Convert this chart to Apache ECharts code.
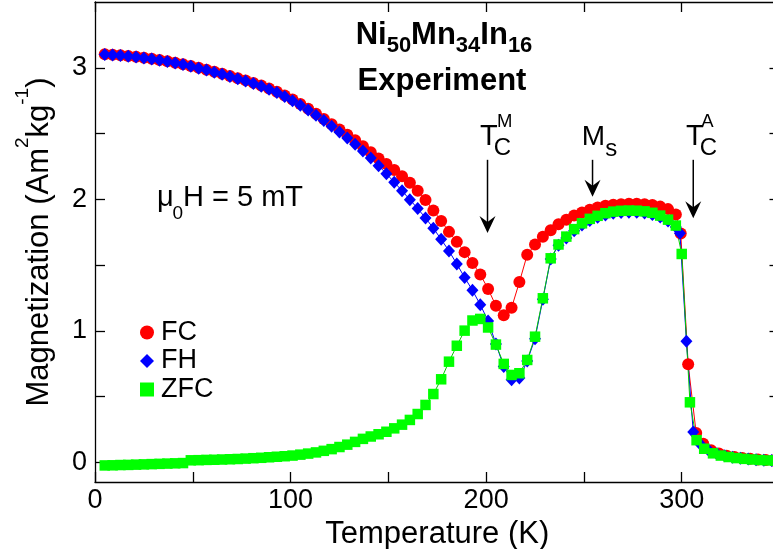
<!DOCTYPE html>
<html><head><meta charset="utf-8">
<script src="https://cdn.jsdelivr.net/npm/echarts@6/dist/echarts.min.js"></script>
<style>html,body{margin:0;padding:0;background:#fff}#c{width:773px;height:549px}</style>
</head><body><div id="c"></div>
<script>
// ---- data ----
const tempGrid = [5,9,13,17,21,25,29,33,37,41,45,49,53,57,61,65,69,73,77,81,85,89,93,97,101,105,109,113,117,121,125,129,133,137,141,145,149,153,157,161,165,169,173,177,181,185,189,193,197,201,205,209,213,217,221,225,229,233,237,241,245,249,253,257,261,265,269,273,277,281,285,289,293,297];

const tempFCtail = [299.5,303.3,307.4,311,315,319,323,327,331,335,339,343,347];
const tempFHtail = [299.1,302.4,305.9,310,314,318,322,326,330,334,338,342,346];
const tempZFCtail = [300,304.2,307.6,311.5,316,320,324,328,332,336,340,344,348];

const magFC = [3.102,3.099,3.095,3.089,3.083,3.076,3.068,3.059,3.049,3.038,3.027,3.014,3.000,2.985,2.970,2.954,2.938,2.921,2.904,2.885,2.865,2.843,2.817,2.789,2.758,2.724,2.688,2.650,2.610,2.571,2.531,2.491,2.448,2.403,2.357,2.310,2.268,2.223,2.175,2.125,2.065,1.995,1.915,1.835,1.752,1.676,1.598,1.515,1.428,1.318,1.190,1.118,1.175,1.370,1.578,1.656,1.715,1.765,1.810,1.845,1.876,1.900,1.921,1.938,1.950,1.958,1.963,1.965,1.965,1.962,1.956,1.944,1.925,1.885];
const magFCtail = [1.740,0.745,0.222,0.140,0.092,0.066,0.050,0.040,0.032,0.026,0.021,0.017,0.014];

const magFH = [3.100,3.097,3.093,3.087,3.081,3.074,3.066,3.057,3.047,3.036,3.024,3.011,2.997,2.982,2.966,2.950,2.934,2.917,2.899,2.880,2.860,2.837,2.811,2.782,2.750,2.715,2.678,2.639,2.598,2.556,2.512,2.466,2.418,2.367,2.313,2.255,2.194,2.130,2.064,1.997,1.929,1.858,1.780,1.695,1.607,1.508,1.405,1.308,1.198,1.075,0.900,0.728,0.628,0.640,0.770,0.940,1.240,1.545,1.650,1.706,1.761,1.805,1.839,1.863,1.881,1.893,1.900,1.902,1.901,1.896,1.885,1.865,1.835,1.790];
const magFHtail = [1.741,0.920,0.230,0.130,0.088,0.064,0.049,0.039,0.031,0.025,0.020,0.016,0.013];

const magZFC = [-0.024,-0.023,-0.021,-0.020,-0.018,-0.016,-0.014,-0.012,-0.010,-0.008,-0.006,0.015,0.016,0.018,0.019,0.021,0.023,0.025,0.028,0.031,0.034,0.038,0.042,0.046,0.051,0.058,0.066,0.075,0.087,0.100,0.116,0.134,0.155,0.178,0.196,0.213,0.232,0.258,0.286,0.322,0.367,0.436,0.519,0.631,0.765,0.886,1.001,1.078,1.090,1.025,0.895,0.748,0.664,0.677,0.778,0.955,1.247,1.551,1.656,1.716,1.773,1.817,1.851,1.874,1.894,1.906,1.912,1.914,1.913,1.908,1.897,1.876,1.845,1.800];
const magZFCtail = [1.584,0.456,0.168,0.103,0.068,0.051,0.040,0.032,0.026,0.021,0.017,0.014,0.012];

const seriesNames = ['FC','FH','ZFC'];
const xTicks = [0,50,100,150,200,250,300,350];
const xLabels = [0,100,200,300];
const yTicks = [0,0.5,1,1.5,2,2.5,3];
const yLabels = [0,1,2,3];

// annotation anchors (temperature, magnetization)
const arrowTemps = [200.7, 254.4, 305.9];
const arrowTopVal = 2.30;
const arrowTipVals = [1.744, 2.02, 1.855];

// ---- chart ----
const F = '"Liberation Sans", Arial, Helvetica, sans-serif';
function pairs(ts, vs){ return ts.map((t,i)=>[t, vs[i]]); }
const dFC = pairs(tempGrid.concat(tempFCtail), magFC.concat(magFCtail));
const dFH = pairs(tempGrid.concat(tempFHtail), magFH.concat(magFHtail));
const dZFC = pairs(tempGrid.concat(tempZFCtail), magZFC.concat(magZFCtail));

const axisLineStyle = {color:'#000', width:1.3};
const chart = echarts.init(document.getElementById('c'));
const option = {
  animation:false,
  backgroundColor:'#fff',
  grid:{left:95, top:2, width:684.5, height:480, containLabel:false, outerBoundsMode:'none'},
  legend:{
    orient:'vertical', left:135, top:314, itemWidth:14, itemHeight:14, itemGap:1.5,
    selectedMode:false,
    textStyle:{fontSize:27, fontFamily:F, color:'#000', lineHeight:26, padding:[0,0,0,2]},
    data:[{name:'FC', icon:'circle'},{name:'FH', icon:'diamond'},{name:'ZFC', icon:'rect'}]
  },
  xAxis:[{
    type:'value', min:0, max:350, interval:50,
    name:'Temperature (K)', nameLocation:'middle', nameGap:30,
    nameTextStyle:{fontSize:31, fontFamily:F, color:'#000'},
    axisLine:{show:true, onZero:false, lineStyle:axisLineStyle},
    axisTick:{show:true, inside:true, length:10, lineStyle:axisLineStyle, customValues:xTicks},
    axisLabel:{fontSize:27, fontFamily:F, color:'#000', margin:5, customValues:xLabels,
      formatter:v=> (xLabels.indexOf(v)>=0 ? String(v) : '')},
    splitLine:{show:false}
  },{
    type:'value', min:0, max:350, interval:50, position:'top',
    axisLine:{show:true, onZero:false, lineStyle:axisLineStyle},
    axisTick:{show:true, inside:true, length:10, lineStyle:axisLineStyle, customValues:xTicks},
    axisLabel:{show:false}, splitLine:{show:false}
  }],
  yAxis:[{
    type:'value', min:-0.15, max:3.5,
    name:'{m|Magnetization (Am}{p|2}{m|kg}{p|-1}{m|)}', nameLocation:'middle', nameGap:40, nameRotate:90,
    nameTextStyle:{fontSize:31, fontFamily:F, color:'#000', rich:{
      m:{fontSize:31, fontFamily:F, color:'#000', verticalAlign:'bottom'},
      p:{fontSize:19, fontFamily:F, color:'#000', verticalAlign:'bottom', padding:[0,0,23,0]}
    }},
    axisLine:{show:true, onZero:false, lineStyle:axisLineStyle},
    axisTick:{show:true, inside:true, length:10, lineStyle:axisLineStyle, customValues:yTicks},
    axisLabel:{fontSize:27, fontFamily:F, color:'#000', margin:8, customValues:yLabels,
      formatter:v=>String(v)},
    splitLine:{show:false}
  },{
    type:'value', min:-0.15, max:3.5, position:'right',
    axisLine:{show:true, onZero:false, lineStyle:axisLineStyle},
    axisTick:{show:true, inside:true, length:10, lineStyle:axisLineStyle, customValues:yTicks},
    axisLabel:{show:false}, splitLine:{show:false}
  }],
  series:[
    {name:'FC', type:'line', data:dFC, symbol:'circle', symbolSize:12,
     itemStyle:{color:'#ff0000'}, lineStyle:{color:'#ff0000', width:1}, emphasis:{disabled:true}},
    {name:'FH', type:'line', data:dFH, symbol:'diamond', symbolSize:[12,13],
     itemStyle:{color:'#0000ff'}, lineStyle:{color:'#0000ff', width:1}, emphasis:{disabled:true}},
    {name:'ZFC', type:'line', data:dZFC, symbol:'rect', symbolSize:10.5,
     itemStyle:{color:'#00ff00'}, lineStyle:{color:'#00cc00', width:1}, emphasis:{disabled:true}}
  ]
};
chart.setOption(option);

// ---- annotations ----
function px(t,v){ return chart.convertToPixel({xAxisIndex:0, yAxisIndex:0}, [t,v]); }
function txt(text, x, y, size, weight, align){
  const a = align || 'center';
  return {type:'text', z:100, style:{text:text, x:x, y:y, fill:'#000',
    font:(weight||'normal')+' '+size+'px '+F, align:a, verticalAlign:'middle',
    textAlign:a, textVerticalAlign:'middle'}};
}
const g = [];
arrowTemps.forEach((t,i)=>{
  const top = px(t, arrowTopVal), tip = px(t, arrowTipVals[i]);
  const x = top[0];
  g.push({type:'line', z:100, shape:{x1:x, y1:top[1], x2:x, y2:tip[1]-8}, style:{stroke:'#000', lineWidth:1.5}});
  g.push({type:'polygon', z:100, shape:{points:[[x-8,tip[1]-17],[x,tip[1]-11],[x+8,tip[1]-17],[x,tip[1]]]}, style:{fill:'#000'}});
});
const a0 = px(arrowTemps[0], arrowTopVal)[0];
const a1 = px(arrowTemps[1], arrowTopVal)[0];
const a2 = px(arrowTemps[2], arrowTopVal)[0];
g.push(txt('T', a0+1.3, 137, 29));
g.push(txt('C', a0+14.8, 148.5, 24));
g.push(txt('M', a0+17.3, 122, 18.5));
g.push(txt('M', a1+0.8, 137.5, 28));
g.push(txt('s', a1+18.8, 149, 24));
g.push(txt('T', a2+1.7, 137, 29));
g.push(txt('C', a2+15.2, 148.5, 24));
g.push(txt('A', a2+14.2, 122, 18.5));
// field label
g.push(txt('\u03bc', 157, 198, 29, 'normal', 'left'));
g.push(txt('0', 172.5, 213.5, 19, 'normal', 'left'));
g.push(txt('H = 5 mT', 183, 197.5, 29, 'normal', 'left'));
// title
g.push({type:'text', z:100, style:{
  text:'{a|Ni}{s|50}{a|Mn}{s|34}{a|In}{s|16}', x:444, y:20, fill:'#000',
  align:'center', verticalAlign:'top', textAlign:'center', textVerticalAlign:'top',
  rich:{
    a:{fontSize:31, fontWeight:'bold', fontFamily:F, fill:'#000', color:'#000', verticalAlign:'top'},
    s:{fontSize:22, fontWeight:'bold', fontFamily:F, fill:'#000', color:'#000', verticalAlign:'top', padding:[15,0,0,0]}
  }}});
g.push(txt('Experiment', 442, 81.7, 31, 'bold'));
chart.setOption({graphic:g});
</script>
</body></html>
